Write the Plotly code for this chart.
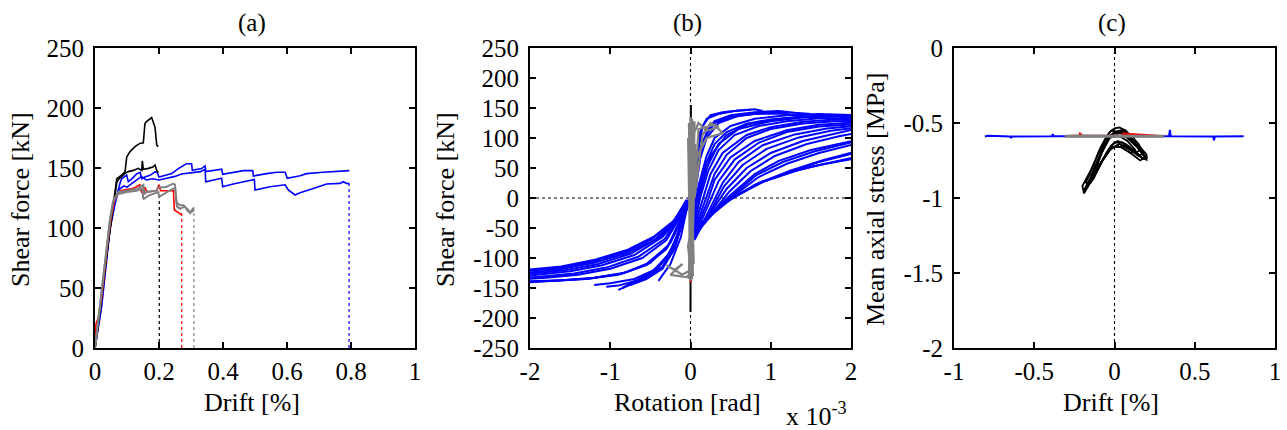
import plotly.graph_objects as go

W, H = 1287, 430

# ---------------- Panel (a): envelope curves, Drift [%] vs Shear force [kN]
a_black1_x = [0, 0.02, 0.04, 0.05, 0.06, 0.068, 0.083, 0.094, 0.099, 0.109, 0.125, 0.14, 0.151, 0.156, 0.161, 0.172, 0.177, 0.1875, 0.193, 0.198]
a_black1_y = [0, 40, 85, 105, 125, 141, 144, 147, 159, 163.5, 167.8, 170.5, 171, 187, 188.6, 191.4, 192, 184, 169, 167.8]
a_black2_x = [0, 0.02, 0.04, 0.05, 0.06, 0.068, 0.075, 0.094, 0.104, 0.12, 0.135, 0.146, 0.148, 0.151, 0.167, 0.182, 0.1875, 0.193, 0.198]
a_black2_y = [0, 40, 85, 105, 126, 138, 141, 145.5, 147, 148, 149.7, 148, 156, 149, 149.7, 151, 152.5, 148, 146]
a_blue1_x = [0, 0.02, 0.047, 0.0625, 0.078, 0.083, 0.099, 0.104, 0.115, 0.13, 0.141, 0.146, 0.156, 0.172, 0.1875, 0.195, 0.2, 0.24, 0.26, 0.286, 0.302, 0.304, 0.333, 0.344, 0.347, 0.396, 0.399, 0.432, 0.464, 0.493, 0.495, 0.536, 0.568, 0.594, 0.601, 0.641, 0.661, 0.713, 0.766, 0.795]
a_blue1_y = [0, 35, 101, 122, 137, 141, 144, 138.6, 141, 145, 146.4, 141, 142.5, 143.9, 146.7, 146, 142.5, 145.3, 149.4, 153.6, 153.6, 148, 149.5, 151.7, 147, 149, 144.7, 146, 147.8, 147.8, 143.3, 145.3, 146.4, 146.4, 141.4, 143.6, 145.3, 146.4, 147.5, 147.8]
a_blue2_x = [0, 0.02, 0.047, 0.0625, 0.075, 0.09, 0.1, 0.115, 0.13, 0.145, 0.16, 0.18, 0.2, 0.22, 0.25, 0.27, 0.3, 0.33, 0.344, 0.346, 0.396, 0.399, 0.432, 0.49, 0.498, 0.5, 0.547, 0.594, 0.604, 0.625, 0.641, 0.682, 0.724, 0.766, 0.776, 0.786, 0.795]
a_blue2_y = [0, 33, 99, 120, 132, 135, 134, 137, 140, 143, 140, 141, 140, 141, 143, 145, 146, 147, 149, 138.6, 141.4, 134.4, 136.7, 140.5, 140.5, 131.7, 134.4, 136, 131.7, 127.5, 129.4, 133, 136.7, 137.2, 138.6, 137.2, 137]
a_red_x = [0, 0.003, 0.01, 0.02, 0.04, 0.05, 0.06, 0.07, 0.08, 0.1, 0.12, 0.14, 0.145, 0.151, 0.156, 0.16, 0.167, 0.185, 0.193, 0.2, 0.205, 0.24, 0.245, 0.248, 0.26, 0.271]
a_red_y = [0, 20, 25, 40, 88, 108, 122, 128, 131, 132, 133, 136, 130, 128.3, 134, 131, 130, 131, 131, 136, 131, 131, 131, 115, 112.5, 111]
a_gray1_x = [0, 0.031, 0.047, 0.057, 0.073, 0.1, 0.12, 0.135, 0.151, 0.155, 0.16, 0.19, 0.2, 0.22, 0.245, 0.25, 0.255, 0.266, 0.276, 0.285, 0.292, 0.297, 0.307]
a_gray1_y = [0, 68, 106.7, 123, 130, 131, 132, 133, 135.8, 128, 130, 131, 134, 134, 137, 136, 121, 119, 119, 117, 115, 112.5, 116.7]
a_gray2_x = [0, 0.03, 0.046, 0.056, 0.07, 0.1, 0.13, 0.148, 0.151, 0.167, 0.198, 0.2, 0.22, 0.245, 0.25, 0.256, 0.266, 0.28, 0.29, 0.3, 0.31]
a_gray2_y = [0, 66, 105, 121, 128, 130, 131, 133, 124, 127, 130, 126, 129, 133, 133, 118, 116, 118, 114, 113, 115]
a_end_drift = [0.201, 0.271, 0.309, 0.794]
a_end_force = [128, 115, 119, 137]
a_end_color = ["black", "red", "gray", "blue"]

a_xticks = [0, 0.2, 0.4, 0.6, 0.8, 1]
a_xtext = ["0", "0.2", "0.4", "0.6", "0.8", "1"]
a_yticks = [0, 50, 100, 150, 200, 250]
a_ytext = ["0", "50", "100", "150", "200", "250"]

# ---------------- Panel (b): hysteresis, Rotation [x1e-3 rad] vs Shear force [kN]
b_right_branches = [
    ([0.0, 0.05, 0.1, 0.15, 0.25, 0.4, 0.6, 0.8, 0.9], [-30, 20, 80, 120, 138, 143, 146, 148, 145]),
    ([0.0, 0.05, 0.1, 0.2, 0.3, 0.5, 0.8, 1.1, 1.3, 1.5], [-40, 0, 60, 110, 128, 138, 143, 145, 142, 140]),
    ([0.0, 0.1, 0.2, 0.3, 0.5, 0.8, 1.2, 1.6, 2.05], [-50, 20, 70, 100, 120, 132, 138, 140, 138]),
    ([0.0, 0.1, 0.2, 0.35, 0.6, 1.0, 1.4, 1.8, 2.05], [-60, 0, 50, 90, 115, 128, 134, 136, 135]),
    ([0.02, 0.15, 0.25, 0.4, 0.7, 1.0, 1.4, 1.8, 2.05], [-60, -5, 40, 75, 105, 118, 127, 131, 130]),
    ([0.03, 0.2, 0.3, 0.5, 0.8, 1.2, 1.6, 2.05], [-65, -10, 30, 68, 95, 113, 122, 126]),
    ([0.05, 0.25, 0.4, 0.6, 0.9, 1.3, 1.7, 2.05], [-70, -15, 25, 60, 88, 106, 116, 120]),
    ([0.05, 0.3, 0.45, 0.7, 1.0, 1.4, 1.8, 2.05], [-65, -15, 15, 50, 75, 95, 108, 115]),
    ([0.05, 0.3, 0.5, 0.8, 1.1, 1.5, 2.05], [-60, -20, 5, 40, 62, 80, 96]),
    ([0.05, 0.35, 0.55, 0.85, 1.2, 1.6, 2.05], [-58, -15, 5, 35, 57, 75, 90]),
    ([0.05, 0.3, 0.5, 0.8, 1.2, 1.6, 2.05], [-55, -20, -2, 22, 42, 60, 75]),
    ([0.05, 0.2, 0.5, 0.9, 1.3, 1.6, 2.05], [-55, -35, 0, 27, 45, 55, 66]),
    ([0.01, 0.08, 0.15, 0.3, 0.5, 0.8, 1.1, 1.4], [-20, 40, 95, 125, 135, 140, 141, 138]),
    ([0.02, 0.12, 0.25, 0.45, 0.7, 1.0, 1.4, 1.8, 2.05], [-45, 10, 70, 105, 122, 130, 136, 138, 137]),
    ([0.0, 0.04, 0.08, 0.12, 0.2, 0.35, 0.55, 0.75], [-25, 15, 70, 110, 132, 140, 145, 147]),
    ([0.01, 0.06, 0.12, 0.2, 0.35, 0.6, 0.9, 1.2], [-35, 10, 65, 100, 125, 137, 142, 143]),
    ([0.02, 0.1, 0.2, 0.3, 0.45, 0.7, 1.0, 1.4, 1.8, 2.05], [-50, 10, 60, 90, 110, 124, 131, 136, 138, 138]),
    ([0.03, 0.12, 0.22, 0.35, 0.55, 0.85, 1.2, 1.6, 2.05], [-55, 0, 45, 80, 105, 120, 128, 133, 133]),
    ([0.03, 0.18, 0.3, 0.45, 0.7, 1.0, 1.4, 1.8, 2.05], [-62, -5, 40, 72, 100, 115, 124, 128, 128]),
    ([0.04, 0.22, 0.35, 0.55, 0.85, 1.2, 1.6, 2.05], [-68, -12, 28, 64, 92, 110, 119, 123]),
    ([0.05, 0.28, 0.42, 0.65, 0.95, 1.35, 1.75, 2.05], [-68, -15, 20, 55, 82, 101, 112, 117]),
    ([0.05, 0.32, 0.48, 0.75, 1.05, 1.45, 1.85, 2.05], [-63, -18, 10, 45, 70, 90, 103, 108]),
    ([0.06, 0.33, 0.52, 0.82, 1.15, 1.55, 2.05], [-60, -18, 4, 38, 60, 78, 94]),
    ([0.06, 0.3, 0.52, 0.85, 1.25, 1.65, 2.05], [-57, -20, -1, 25, 46, 63, 77]),
    ([0.05, 0.22, 0.52, 0.92, 1.35, 1.7, 2.05], [-57, -33, 0, 28, 47, 58, 68]),
]
b_left_branches = [
    ([0.0, -0.05, -0.15, -0.3, -0.5, -0.7, -0.85], [10, -20, -60, -100, -125, -140, -150]),
    ([0.0, -0.1, -0.25, -0.45, -0.7, -1.0, -1.2], [5, -40, -90, -120, -135, -142, -145]),
    ([0.0, -0.1, -0.25, -0.5, -0.8, -1.2, -1.6, -2.05], [0, -30, -75, -108, -124, -133, -137, -139]),
    ([0.0, -0.1, -0.3, -0.6, -1.0, -1.4, -1.8, -2.05], [-5, -25, -70, -100, -118, -128, -133, -135]),
    ([-0.02, -0.15, -0.35, -0.7, -1.1, -1.5, -2.05], [-5, -35, -65, -95, -112, -122, -130]),
    ([-0.03, -0.2, -0.45, -0.8, -1.2, -1.6, -2.05], [-5, -40, -70, -92, -108, -118, -125]),
    ([-0.05, -0.2, -0.45, -0.78, -1.19, -1.61, -2.05], [-3, -37, -64, -86, -103, -114, -120]),
    ([0.0, -0.08, -0.2, -0.35, -0.55, -0.75], [8, -30, -85, -118, -135, -145]),
    ([-0.01, -0.1, -0.3, -0.55, -0.9, -1.3, -1.7, -2.05], [0, -35, -85, -112, -128, -135, -138, -140]),
    ([0.0, -0.04, -0.12, -0.25, -0.4], [12, -15, -65, -110, -138]),
    ([0.0, -0.06, -0.18, -0.35, -0.6, -0.9, -1.05], [6, -25, -75, -115, -135, -146, -148]),
    ([-0.01, -0.12, -0.28, -0.55, -0.85, -1.25, -1.65, -2.05], [-2, -35, -80, -110, -126, -134, -138, -141]),
    ([-0.02, -0.12, -0.32, -0.65, -1.05, -1.45, -1.85, -2.05], [-4, -28, -68, -98, -116, -126, -131, -133]),
    ([-0.02, -0.17, -0.4, -0.75, -1.15, -1.55, -2.05], [-5, -38, -67, -93, -110, -120, -127]),
    ([-0.04, -0.22, -0.48, -0.82, -1.22, -1.62, -2.05], [-4, -40, -68, -90, -106, -116, -122]),
    ([0.0, -0.08, -0.25, -0.45, -0.7, -0.9], [5, -30, -90, -125, -142, -153]),
]
b_gray_x = [0.0, 0.02, -0.01, 0.03, 0.0, 0.01, -0.02, 0.04, 0.05, 0.1, 0.2, 0.35, 0.25, 0.15, 0.05, 0.1, 0.3, 0.4, 0.2, 0.05, 0.02, -0.03, 0.0, -0.1, -0.3, -0.2, -0.1, -0.25, -0.05, 0.0]
b_gray_y = [-130, 132, -120, 128, -100, 125, -135, 120, 110, 125, 112, 118, 125, 105, 0, 115, 122, 108, 100, 60, -40, -80, -120, -128, -112, -120, -110, -128, -132, -125]
b_gray2_x = [0.0, 0.03, 0.0, 0.04, -0.02, 0.02, 0.05, 0.0, -0.03, 0.03, 0.06, 0.01, -0.01, 0.04]
b_gray2_y = [135, -130, 130, -110, 125, -135, 128, -125, 100, -60, 90, -138, 120, 20]
b_black_x = [0.0, 0.005, -0.005, 0.0]
b_black_y = [-190, 155, -150, 0]
b_red_x = [0.0, 0.01]
b_red_y = [-140, -132]

b_xticks = [-2, -1, 0, 1, 2]
b_xtext = ["-2", "-1", "0", "1", "2"]
b_yticks = [-250, -200, -150, -100, -50, 0, 50, 100, 150, 200, 250]
b_ytext = ["-250", "-200", "-150", "-100", "-50", "0", "50", "100", "150", "200", "250"]

# ---------------- Panel (c): Drift [%] vs Mean axial stress [MPa]
c_blue_x = [-0.807, -0.79, -0.65, -0.645, -0.64, -0.39, -0.385, -0.38, 0.34, 0.345, 0.35, 0.615, 0.62, 0.625, 0.805]
c_blue_y = [-0.59, -0.585, -0.59, -0.6, -0.59, -0.588, -0.575, -0.588, -0.588, -0.545, -0.588, -0.59, -0.615, -0.59, -0.588]
c_red_x = [-0.27, -0.22, -0.215, -0.2, 0.0, 0.05, 0.055, 0.27]
c_red_y = [-0.585, -0.585, -0.57, -0.585, -0.585, -0.585, -0.57, -0.585]
c_gray_x = [-0.31, -0.2, 0.0, 0.2, 0.31]
c_gray_y = [-0.588, -0.586, -0.588, -0.586, -0.588]
c_black_loops = [
    ([-0.19, -0.2, -0.15, -0.1, -0.06, -0.03, 0.0, 0.03, 0.07, 0.12, 0.17, 0.2, 0.2, 0.17, 0.12, 0.07, 0.02, -0.02, -0.06, -0.11, -0.16, -0.19],
     [-0.97, -0.92, -0.82, -0.7, -0.62, -0.56, -0.535, -0.53, -0.55, -0.61, -0.67, -0.71, -0.745, -0.73, -0.68, -0.64, -0.62, -0.65, -0.72, -0.82, -0.92, -0.97]),
    ([-0.17, -0.12, -0.08, -0.04, 0.0, 0.05, 0.1, 0.15, 0.18, 0.15, 0.1, 0.05, 0.0, -0.04, -0.09, -0.14, -0.17],
     [-0.93, -0.8, -0.7, -0.6, -0.56, -0.545, -0.58, -0.64, -0.7, -0.72, -0.68, -0.63, -0.63, -0.68, -0.78, -0.88, -0.93]),
    ([-0.18, -0.13, -0.09, -0.05, -0.02, 0.03, 0.08, 0.14, 0.19, 0.16, 0.1, 0.04, -0.01, -0.05, -0.1, -0.15, -0.18],
     [-0.9, -0.78, -0.67, -0.59, -0.55, -0.56, -0.6, -0.66, -0.73, -0.75, -0.7, -0.66, -0.66, -0.7, -0.8, -0.9, -0.9]),
    ([-0.12, -0.08, -0.03, 0.02, 0.08, 0.13, 0.1, 0.04, -0.02, -0.07, -0.12],
     [-0.82, -0.7, -0.6, -0.58, -0.62, -0.68, -0.7, -0.66, -0.66, -0.74, -0.82]),
    ([-0.19, -0.14, -0.1, -0.07, -0.04, 0.0, 0.05, 0.09, 0.14, 0.18, 0.2, 0.18, 0.13, 0.08, 0.03, -0.03, -0.08, -0.13, -0.19],
     [-0.95, -0.84, -0.74, -0.66, -0.6, -0.56, -0.555, -0.59, -0.65, -0.7, -0.73, -0.74, -0.7, -0.66, -0.64, -0.68, -0.76, -0.87, -0.95]),
    ([-0.15, -0.11, -0.07, -0.02, 0.02, 0.06, 0.11, 0.16, 0.13, 0.08, 0.03, -0.02, -0.06, -0.11, -0.15],
     [-0.86, -0.76, -0.66, -0.58, -0.565, -0.57, -0.62, -0.68, -0.7, -0.67, -0.64, -0.67, -0.73, -0.8, -0.86]),
]
c_xticks = [-1, -0.5, 0, 0.5, 1]
c_xtext = ["-1", "-0.5", "0", "0.5", "1"]
c_yticks = [-2, -1.5, -1, -0.5, 0]
c_ytext = ["-2", "-1.5", "-1", "-0.5", "0"]

# ---------------- Figure
FONT = "Times New Roman, Liberation Serif, serif"
fig = go.Figure()
LW = 1.6
COL = {"black": "#000000", "red": "#FF0000", "gray": "#808080", "blue": "#0000FF"}

def line(x, y, color, ax, width=LW, dash="solid"):
    fig.add_trace(go.Scatter(x=x, y=y, mode="lines", xaxis="x" + ax, yaxis="y" + ax,
                             line=dict(color=color, width=width, dash=dash),
                             showlegend=False, hoverinfo="skip"))

# (a)
for xd, yd, c in zip(a_end_drift, a_end_force, a_end_color):
    line([xd, xd], [0, yd], COL[c], "", width=1.2, dash="dot")
line(a_blue1_x, a_blue1_y, COL["blue"], "")
line(a_blue2_x, a_blue2_y, COL["blue"], "")
line(a_black1_x, a_black1_y, COL["black"], "")
line(a_black2_x, a_black2_y, COL["black"], "")
line(a_red_x, a_red_y, COL["red"], "")
line(a_gray1_x, a_gray1_y, COL["gray"], "", width=2)
line(a_gray2_x, a_gray2_y, COL["gray"], "", width=2)

# (b)
line([-2, 2], [0, 0], "black", "2", width=1.1, dash="dot")
line([0, 0], [-250, 250], "black", "2", width=1.1, dash="dot")
for bx, by in b_right_branches:
    line(bx, by, COL["blue"], "2", width=2)
for bx, by in b_left_branches:
    line(bx, by, COL["blue"], "2", width=2)
line(b_black_x, b_black_y, COL["black"], "2", width=2)
line(b_red_x, b_red_y, COL["red"], "2", width=2)
line(b_gray_x, b_gray_y, COL["gray"], "2", width=2.2)
line(b_gray2_x, b_gray2_y, COL["gray"], "2", width=2.2)

# (c)
line([0, 0], [-2, 0], "black", "3", width=1.1, dash="dot")
for lx, ly in c_black_loops:
    line(lx, ly, COL["black"], "3", width=1.8)
line(c_blue_x, c_blue_y, COL["blue"], "3", width=2)
line(c_red_x, c_red_y, COL["red"], "3", width=2)
line(c_gray_x, c_gray_y, COL["gray"], "3", width=3)

def px_x(p):
    return p / W

def px_y(p):
    return 1 - p / H

axis_common = dict(showline=True, mirror="ticks", linecolor="black", linewidth=2,
                   ticks="inside", ticklen=6, tickwidth=1.5, tickcolor="black",
                   showgrid=False, zeroline=False, tickmode="array", automargin=False,
                   tickfont=dict(family=FONT, size=25, color="black"))

layout = dict(width=W, height=H, margin=dict(l=0, r=0, t=0, b=0, pad=0, autoexpand=False),
              autosize=False,
              paper_bgcolor="white", plot_bgcolor="white", showlegend=False)

panels = [("", 95, 415, [0, 1], [0, 250], a_xticks, a_xtext, a_yticks, a_ytext),
          ("2", 530, 851, [-2, 2], [-250, 250], b_xticks, b_xtext, b_yticks, b_ytext),
          ("3", 954, 1275, [-1, 1], [-2, 0], c_xticks, c_xtext, c_yticks, c_ytext)]
for ax, x0, x1, xr, yr, xt, xtt, yt, ytt in panels:
    layout["xaxis" + ax] = dict(axis_common, domain=[px_x(x0), px_x(x1)], range=xr,
                                tickvals=xt, ticktext=xtt, anchor="y" + ax)
    layout["yaxis" + ax] = dict(axis_common, domain=[px_y(348), px_y(48)], range=yr,
                                tickvals=yt, ticktext=ytt, anchor="x" + ax,
                                ticklabelstandoff=4)
fig.update_layout(**layout)

def note(text, x, y, size=26, angle=0, xanchor="center"):
    fig.add_annotation(text=text, x=px_x(x), y=px_y(y), xref="paper", yref="paper",
                       showarrow=False, textangle=angle, xanchor=xanchor, yanchor="middle",
                       font=dict(family=FONT, size=size, color="black"))

note("(a)", 252, 23, size=25)
note("(b)", 687, 23, size=25)
note("(c)", 1112, 23, size=25)
note("Drift [%]", 252, 402)
note("Rotation [rad]", 687, 402)
note("Drift [%]", 1111, 402)
note("Shear force [kN]", 21, 200, angle=-90)
note("Shear force [kN]", 446, 200, angle=-90)
note("Mean axial stress [MPa]", 876, 200, angle=-90)
note("x 10<sup>-3</sup>", 849, 414, xanchor="right")

fig.write_html("out.html", config={"displayModeBar": False},
               post_script="document.body.style.margin='0px';document.body.style.overflow='hidden';")
